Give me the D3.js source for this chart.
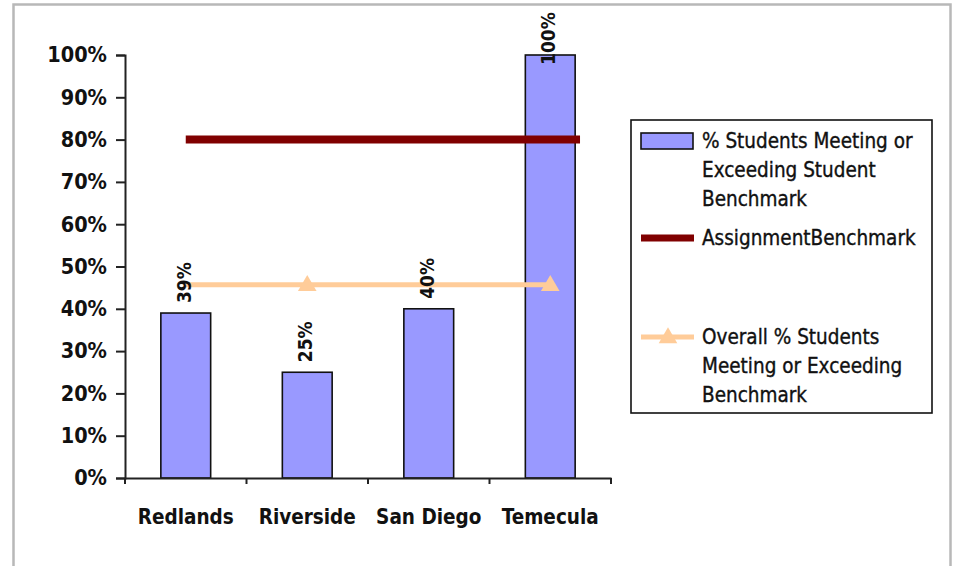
<!DOCTYPE html>
<html>
<head>
<meta charset="utf-8">
<script src="https://cdn.jsdelivr.net/npm/d3@7"></script>
<style>
  body { margin: 0; background: #ffffff; }
  svg { display: block; }
  text { font-family: "DejaVu Sans Condensed", "DejaVu Sans", sans-serif; font-stretch: condensed; }
</style>
</head>
<body>
<svg id="chart" width="957" height="566"></svg>
<script>
// values
const categories = ["Redlands", "Riverside", "San Diego", "Temecula"];
const studentPct = [0.39, 0.25, 0.40, 1.00];
const assignmentBenchmark = [0.80, 0.80, 0.80, 0.80];
const overallPct = [0.457, 0.457, 0.457, 0.457];
const overallMarkerShown = [false, true, false, true];
const yTickValues = [0, 0.1, 0.2, 0.3, 0.4, 0.5, 0.6, 0.7, 0.8, 0.9, 1.0];

const legendItems = [
    {type: "bar", lines: ["% Students Meeting or", "Exceeding Student", "Benchmark"]},
    {type: "line", lines: ["AssignmentBenchmark"]},
    {type: "marker", lines: ["Overall % Students", "Meeting or Exceeding", "Benchmark"]}
];

const barColor = "#9999ff";
const benchColor = "#800000";
const overallColor = "#ffcc99";

let svg = d3.select("svg#chart");

// outer frame of the chart area
svg.append("rect")
    .attr("x", 13.5).attr("y", 4.5)
    .attr("width", 937).attr("height", 620)
    .attr("fill", "none")
    .attr("stroke", "#b8b8b8")
    .attr("stroke-width", 2.5);

let plotLeft = 125, plotRight = 611, plotTop = 55, plotBottom = 478;

//#region Scales
let xScale = d3.scaleBand()
    .domain(categories)
    .range([plotLeft, plotRight])
    .padding(0);

let yScale = d3.scaleLinear()
    .domain([0, 1])
    .range([plotBottom, plotTop]);

let barWidth = xScale.bandwidth() * 0.41;
function center(c){
    return xScale(c) + xScale.bandwidth() / 2;
}
//#endregion

//#region Bars
let barData = categories.map((c, i) => ({cat: c, value: studentPct[i]}));

svg.selectAll("rect.bar")
    .data(barData)
    .join("rect")
    .attr("class", "bar")
    .attr("x", d => center(d.cat) - barWidth / 2)
    .attr("y", d => yScale(d.value))
    .attr("width", barWidth)
    .attr("height", d => yScale(0) - yScale(d.value))
    .attr("fill", barColor)
    .attr("stroke", "#111")
    .attr("stroke-width", 1.6);
//#endregion

//#region Lines
// assignment benchmark, drawn a bit past the last category like the original
let benchLine = d3.line()
    .x((d, i) => i == categories.length - 1 ? center(categories[i]) + xScale.bandwidth() * 0.245 : center(categories[i]))
    .y(d => yScale(d));

svg.append("path")
    .datum(assignmentBenchmark)
    .attr("d", benchLine)
    .attr("fill", "none")
    .attr("stroke", benchColor)
    .attr("stroke-width", 8);

let overallLine = d3.line()
    .x((d, i) => center(categories[i]))
    .y(d => yScale(d));

svg.append("path")
    .datum(overallPct)
    .attr("d", overallLine)
    .attr("fill", "none")
    .attr("stroke", overallColor)
    .attr("stroke-width", 5);

let triangle = d3.symbol().type(d3.symbolTriangle).size(150);

svg.selectAll("path.marker")
    .data(overallPct.map((v, i) => ({cat: categories[i], value: v, shown: overallMarkerShown[i]})).filter(d => d.shown))
    .join("path")
    .attr("class", "marker")
    .attr("d", triangle)
    .attr("transform", d => "translate(" + center(d.cat) + "," + (yScale(d.value) + 1) + ")")
    .attr("fill", overallColor);
//#endregion

//#region Axes
let yAxis = d3.axisLeft(yScale)
    .tickValues(yTickValues)
    .tickFormat(d3.format(".0%"))
    .tickSize(9)
    .tickPadding(9);

let gy = svg.append("g")
    .attr("transform", "translate(" + plotLeft + ",0)")
    .call(yAxis);
gy.select(".domain").attr("stroke", "#222").attr("stroke-width", 2);
gy.selectAll(".tick line").attr("stroke", "#222").attr("stroke-width", 2);
gy.selectAll(".tick text")
    .attr("font-family", null)
    .attr("font-size", 21.5)
    .attr("font-weight", "bold")
    .attr("fill", "#111");

let xAxis = d3.axisBottom(xScale).tickSize(0).tickPadding(31);
let gx = svg.append("g")
    .attr("transform", "translate(0," + plotBottom + ")")
    .call(xAxis);
gx.select(".domain").attr("stroke", "#222").attr("stroke-width", 2);
gx.selectAll(".tick text")
    .attr("font-family", null)
    .attr("font-size", 20.5)
    .attr("font-weight", "bold")
    .attr("fill", "#111");

// tick marks between categories
let boundaries = categories.map(c => xScale(c)).concat([plotRight]);
gx.selectAll("line.sep")
    .data(boundaries)
    .join("line")
    .attr("class", "sep")
    .attr("x1", d => d).attr("x2", d => d)
    .attr("y1", 0).attr("y2", 6)
    .attr("stroke", "#222")
    .attr("stroke-width", 2);
//#endregion

//#region Data labels
svg.selectAll("text.dlabel")
    .data(barData)
    .join("text")
    .attr("class", "dlabel")
    .attr("transform", d => {
        // labels that would leave the top are pushed back down
        let yEnd = Math.max(yScale(d.value) - 10, 65);
        return "translate(" + (center(d.cat) + 5) + "," + yEnd + ") rotate(-90)";
    })
    .attr("text-anchor", "start")
    .attr("font-size", 19)
    .attr("font-weight", "bold")
    .attr("fill", "#111")
    .text(d => d3.format(".0%")(d.value));
//#endregion

//#region Legend
let legend = svg.append("g").attr("class", "legend");
legend.append("rect")
    .attr("x", 631).attr("y", 120)
    .attr("width", 301).attr("height", 293)
    .attr("fill", "#fff")
    .attr("stroke", "#111")
    .attr("stroke-width", 1.6);

let lineGap = 29;
let itemTops = [148, 245, 344];
legendItems.forEach((item, k) => {
    let base = itemTops[k];
    let midY = base - 7;
    if(item.type == "bar"){
        legend.append("rect")
            .attr("x", 641).attr("y", midY - 8)
            .attr("width", 52).attr("height", 16)
            .attr("fill", barColor)
            .attr("stroke", "#111")
            .attr("stroke-width", 1.6);
    }else if(item.type == "line"){
        legend.append("line")
            .attr("x1", 641).attr("x2", 694)
            .attr("y1", midY).attr("y2", midY)
            .attr("stroke", benchColor)
            .attr("stroke-width", 7);
    }else{
        legend.append("line")
            .attr("x1", 641).attr("x2", 694)
            .attr("y1", midY).attr("y2", midY)
            .attr("stroke", overallColor)
            .attr("stroke-width", 5);
        legend.append("path")
            .attr("d", triangle)
            .attr("transform", "translate(668," + (midY + 1) + ")")
            .attr("fill", overallColor);
    }
    item.lines.forEach((ln, j) => {
        legend.append("text")
            .attr("x", 702)
            .attr("y", base + j * lineGap)
            .attr("font-size", 20.5)
            .attr("fill", "#111")
            .attr("stroke", "#111")
            .attr("stroke-width", 0.35)
            .text(ln);
    });
});
//#endregion
</script>
</body>
</html>
